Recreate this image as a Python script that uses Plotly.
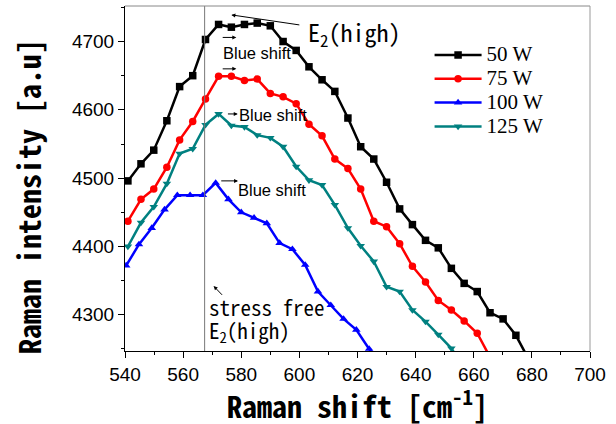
import plotly.graph_objects as go

# ---------------- data ----------------
x_grid_a = [541.0, 545.5, 549.9, 554.4, 558.8, 563.3, 567.7, 572.2, 576.6, 581.1,
            585.5, 590.0, 594.4, 598.9, 603.3, 607.8, 612.2, 616.7, 621.1, 625.6,
            630.0, 634.5, 638.9, 643.4, 647.8, 652.3, 656.7, 661.2, 665.6, 670.1,
            674.5, 679.0]
x_grid_b = [540.4, 544.8, 549.2, 553.6, 558.0, 562.4, 566.8, 571.2, 575.6, 580.0,
            584.4, 588.8, 593.2, 597.6, 602.0, 606.4, 610.8, 615.2, 619.6, 624.0,
            628.4]

y_50w = [4496, 4521, 4541, 4584, 4634, 4650, 4703, 4725, 4721, 4725,
         4727, 4723, 4700, 4687, 4663, 4644, 4627, 4588, 4546, 4528,
         4494, 4455, 4432, 4409, 4398, 4368, 4346, 4334, 4303, 4294,
         4270, 4234]
y_75w = [4437, 4469, 4484, 4516, 4556, 4583, 4616, 4649, 4649, 4643,
         4645, 4624, 4619, 4609, 4579, 4562, 4528, 4514, 4484, 4437,
         4429, 4404, 4371, 4348, 4321, 4307, 4291, 4273, 4238]
y_100w = [4372, 4403, 4427, 4454, 4475, 4475, 4475, 4493, 4469, 4450,
          4442, 4434, 4405, 4396, 4373, 4334, 4314, 4294, 4278, 4250,
          4225]
y_125w = [4400, 4435, 4458, 4492, 4536, 4543, 4578, 4594, 4577, 4575,
          4563, 4559, 4546, 4517, 4497, 4490, 4461, 4427, 4401, 4378,
          4341, 4334, 4307, 4290, 4271, 4251, 4222]

series_names = ["50 W", "75 W", "100 W", "125 W"]
stress_free_x = 567.4

x_ticks = [540, 560, 580, 600, 620, 640, 660, 680, 700]
y_ticks = [4300, 4400, 4500, 4600, 4700]

# ---------------- figure ----------------
mono = "Noto Sans Mono CJK SC, DejaVu Sans Mono, monospace"
sans = "Liberation Sans, Arial, sans-serif"
serif = "Liberation Serif, Times New Roman, serif"

styles = [
    ("#000000", "square"),
    ("#ff0000", "circle"),
    ("#0000ff", "triangle-up"),
    ("#008080", "triangle-down"),
]
xs = [x_grid_a[:len(y_50w)], x_grid_a[:len(y_75w)], x_grid_b[:len(y_100w)], x_grid_a[:len(y_125w)]]
ys = [y_50w, y_75w, y_100w, y_125w]

fig = go.Figure()
for name, x, y, (col, sym) in zip(series_names, xs, ys, styles):
    fig.add_trace(go.Scatter(
        x=x, y=y, name='<span style="font-size:21px">' + name + '</span>',
        mode="lines+markers",
        line=dict(color=col, width=2.5),
        marker=dict(symbol=sym, size=7.5, color=col),
    ))

fig.add_vline(x=stress_free_x, line=dict(color="#777777", width=1))
# top and right frame
fig.add_shape(type="line", xref="paper", yref="paper", x0=0, x1=1, y0=1, y1=1,
              line=dict(color="#888888", width=1))
fig.add_shape(type="line", xref="paper", yref="paper", x0=1, x1=1, y0=0, y1=1,
              line=dict(color="#999999", width=1))

ann = []
def arrow(x_head, y_head, x_tail, y_tail, size=0.8):
    ann.append(dict(x=x_head, y=y_head, ax=x_tail, ay=y_tail, xref="x", yref="y",
                    axref="x", ayref="y", text="", showarrow=True, arrowhead=2,
                    arrowsize=size, arrowwidth=1, arrowcolor="#000000"))

def label(x, y, text, size=16.5, font=sans, xanchor="left"):
    ann.append(dict(x=x, y=y, xref="x", yref="y", text=text, showarrow=False,
                    xanchor=xanchor, yanchor="middle",
                    font=dict(family=font, size=size, color="#000000")))

# blue shift arrows and labels
arrow(578.3, 4706, 573.1, 4706)
label(572.9, 4683, "Blue shift")
arrow(578.3, 4660, 573.1, 4660)
arrow(578.8, 4594, 574.9, 4594)
label(578.7, 4593, "Blue shift")
arrow(578.9, 4496, 572.6, 4496)
label(578.1, 4482, "Blue shift")

# E2(high) label at top
label(602.3, 4712, "E<sub>2</sub>(high)", size=24, font=mono)
arrow(576.6, 4739, 600.5, 4724)

# stress free label
label(568.3, 4312, "stress free", size=21, font=mono)
label(568.3, 4276, "E<sub>2</sub>(high)", size=21, font=mono)
arrow(570.5, 4342, 573.9, 4327)

# axis titles
ann.append(dict(x=0.5, y=-0.153, xref="paper", yref="paper", showarrow=False,
                text="Raman shift [cm<sup>-1</sup>]", xanchor="center", yanchor="middle",
                font=dict(family=mono, size=30, color="#000000", weight="bold")))
ann.append(dict(x=-0.209, y=0.449, xref="paper", yref="paper", showarrow=False,
                text="Raman intensity [a.u]", textangle=-90, xanchor="center", yanchor="middle",
                font=dict(family=mono, size=30, color="#000000", weight="bold")))

fig.update_layout(
    width=616, height=424,
    margin=dict(l=125, r=26, t=6, b=73, autoexpand=False),
    paper_bgcolor="white", plot_bgcolor="white",
    annotations=ann,
    showlegend=True,
    legend=dict(x=0.655, y=0.907, xanchor="left", yanchor="top",
                font=dict(family=serif, size=16, color="#000000"),
                bgcolor="rgba(0,0,0,0)", itemwidth=47, tracegroupgap=0),
    font=dict(family=sans, color="#000000"),
)
fig.update_xaxes(range=[540, 700], tickvals=x_ticks, ticks="outside", ticklen=6,
                 tickwidth=1, tickcolor="#000000", showline=True, linecolor="#000000",
                 linewidth=1, showgrid=False, zeroline=False, automargin=False,
                 tickfont=dict(family=sans, size=19, color="#000000"),
                 minor=dict(dtick=10, ticks="outside", ticklen=3, tickcolor="#000000"))
fig.update_yaxes(range=[4247, 4752], tickvals=y_ticks, ticks="outside", ticklen=6,
                 tickwidth=1, tickcolor="#000000", showline=True, linecolor="#000000",
                 linewidth=1, showgrid=False, zeroline=False, automargin=False,
                 tickfont=dict(family=sans, size=19, color="#000000"),
                 minor=dict(dtick=50, tick0=4250, ticks="outside", ticklen=3, tickcolor="#000000"))

fig.write_html("out.html", post_script="document.body.style.margin='0px';",
               config={"displayModeBar": False})
